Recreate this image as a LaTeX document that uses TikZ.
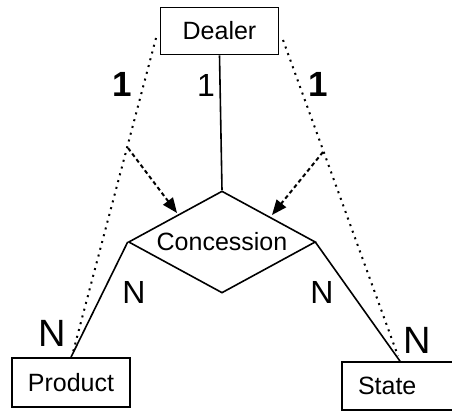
\documentclass[tikz,border=0pt]{standalone}
\usepackage{fontspec}
\setmainfont{Liberation Sans}
\usetikzlibrary{shapes.geometric,arrows.meta}
\begin{document}
\begin{tikzpicture}[x=1pt,y=-1pt,
  entity/.style={draw,line width=1.7pt,rectangle,inner sep=0pt,
    minimum width=118pt,minimum height=47pt,font=\fontsize{25}{27}\selectfont},
  relation/.style={draw,line width=1.6pt,diamond,inner sep=0pt,aspect=1.83,
    minimum width=187pt,minimum height=102pt,font=\fontsize{25}{27}\selectfont},
  link/.style={line width=1.6pt},
  dotlink/.style={line width=2pt,dash pattern=on 2pt off 5pt},
  dashlink/.style={line width=2pt,dash pattern=on 4pt off 3pt,
    -{Triangle[length=15pt,width=12pt]}},
  bigone/.style={font=\bfseries\fontsize{35}{37}\selectfont,inner sep=0pt},
  bigcard/.style={font=\fontsize{38}{40}\selectfont,inner sep=0pt},
  smallcard/.style={font=\fontsize{32}{34}\selectfont,inner sep=0pt}]
\useasboundingbox (0,0) rectangle (452,411);
\begin{scope}
\clip (0,0) rectangle (452,411);
% entities and the relationship
\node[entity] (dealer) at (219.5,31) {Dealer};
\node[relation] (rel) at (222,242) {Concession};
\node[entity,minimum height=49pt] (product) at (71,382.5) {Product};
\node[entity,minimum height=48pt,minimum width=120pt,text width=116pt,align=left]
  (state) at (402,386) {\hspace*{14pt}State};

% solid relationship lines
\draw[link] (dealer.south) -- (rel.north);
\draw[link] (rel.west) -- (product.north);
\draw[link] ([xshift=-1pt]rel.east) -- ([xshift=-2pt]state.north);

% dotted derived paths and their arrows
\coordinate (dl) at (156,38);
\coordinate (dr) at (283,40);
\coordinate (pl) at (72,356);
\coordinate (pr) at (398,356);
\coordinate (bl) at (128,148);
\coordinate (br) at (323,152);
\coordinate (tl) at (177,213);
\coordinate (tr) at (272,215);
\draw[dotlink] (dl) -- (pl);
\draw[dotlink] (dr) -- (pr);
\draw[dashlink] (bl) -- (tl);
\draw[dashlink] (br) -- (tr);
\end{scope}

% cardinalities
\node[bigone] (c1) at (122,84) {1};
\node[smallcard] (c2) at (206,85) {1};
\node[bigone] (c3) at (318,84) {1};
\node[smallcard] (n1) at (134,292) {N};
\node[smallcard] (n2) at (322,292) {N};
\node[bigcard] (n3) at (52,333) {N};
\node[bigcard] (n4) at (417,340) {N};
\end{tikzpicture}
\end{document}
